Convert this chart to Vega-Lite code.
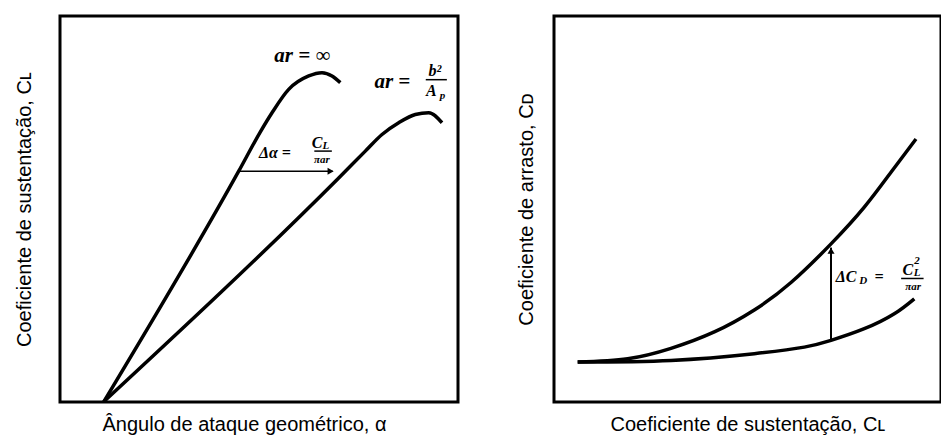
{
  "$schema": "https://vega.github.io/schema/vega-lite/v6.json",
  "background": "white",
  "padding": {"left": 12, "top": 14, "right": 0, "bottom": 0},
  "spacing": 54,
  "config": {
    "view": {"stroke": "black", "strokeWidth": 3},
    "axis": {"domain": false, "ticks": false, "labels": false, "grid": false, "titleFont": "Liberation Sans", "titleFontSize": 20, "titleFontWeight": "normal", "titleColor": "black"}
  },
  "datasets": {
    "lift": [
      {"curve": "inf", "x": 10.98, "y": 0.05},
      {"curve": "inf", "x": 44.9, "y": 59.79},
      {"curve": "inf", "x": 50.2, "y": 69.74},
      {"curve": "inf", "x": 53.27, "y": 74.94},
      {"curve": "inf", "x": 57.46, "y": 80.99},
      {"curve": "inf", "x": 62.49, "y": 84.47},
      {"curve": "inf", "x": 65.83, "y": 85.32},
      {"curve": "inf", "x": 68.34, "y": 84.47},
      {"curve": "inf", "x": 70.43, "y": 82.73},
      {"curve": "finite", "x": 10.98, "y": 0.05},
      {"curve": "finite", "x": 70.03, "y": 58.05},
      {"curve": "finite", "x": 76.71, "y": 64.99},
      {"curve": "finite", "x": 80.9, "y": 69.3},
      {"curve": "finite", "x": 85.1, "y": 72.34},
      {"curve": "finite", "x": 89.27, "y": 74.49},
      {"curve": "finite", "x": 92.64, "y": 74.94},
      {"curve": "finite", "x": 95.98, "y": 72.34}
    ],
    "arrowL": [{"x": 44.9, "x2": 68.5, "y": 59.8}],
    "headL": [{"x": 68.0, "y": 59.8}],
    "lblL_big": [
      {"t": "ar = ∞", "x": 60.9, "y": 89.7},
      {"t": "ar =", "x": 83.5, "y": 83.0}
    ],
    "lblL_mid": [
      {"t": "Δα =", "x": 54.0, "y": 64.5},
      {"t": "b²", "x": 94.2, "y": 85.7},
      {"t": "A", "x": 93.3, "y": 80.6},
      {"t": "C", "x": 64.6, "y": 67.1}
    ],
    "lblL_small": [
      {"t": "p", "x": 96.1, "y": 79.4},
      {"t": "L", "x": 66.8, "y": 66.3},
      {"t": "πar", "x": 65.8, "y": 62.8}
    ],
    "barsL": [
      {"x": 91.9, "x2": 97.2, "y": 83.5},
      {"x": 63.9, "x2": 68.3, "y": 65.0}
    ],
    "drag": [
      {"curve": "finite", "x": 6.12, "y": 10.34},
      {"curve": "finite", "x": 19.04, "y": 11.2},
      {"curve": "finite", "x": 30.23, "y": 13.89},
      {"curve": "finite", "x": 41.42, "y": 18.15},
      {"curve": "finite", "x": 51.76, "y": 23.84},
      {"curve": "finite", "x": 61.24, "y": 30.95},
      {"curve": "finite", "x": 71.58, "y": 40.96},
      {"curve": "finite", "x": 80.18, "y": 50.48},
      {"curve": "finite", "x": 87.08, "y": 59.53},
      {"curve": "finite", "x": 93.54, "y": 68.12},
      {"curve": "inf", "x": 6.12, "y": 10.34},
      {"curve": "inf", "x": 30.23, "y": 10.78},
      {"curve": "inf", "x": 51.76, "y": 12.52},
      {"curve": "inf", "x": 64.68, "y": 14.22},
      {"curve": "inf", "x": 71.58, "y": 15.96},
      {"curve": "inf", "x": 80.18, "y": 18.98},
      {"curve": "inf", "x": 87.93, "y": 22.86},
      {"curve": "inf", "x": 93.1, "y": 26.74}
    ],
    "arrowR": [{"x": 71.58, "y": 16.2, "y2": 40.0}],
    "headR": [{"x": 71.58, "y": 39.2}],
    "lblR_mid": [
      {"t": "ΔC", "x": 75.5, "y": 32.5},
      {"t": "=", "x": 84.0, "y": 32.5},
      {"t": "C", "x": 91.4, "y": 34.3}
    ],
    "lblR_small": [
      {"t": "D", "x": 79.9, "y": 31.3},
      {"t": "2", "x": 93.8, "y": 36.6},
      {"t": "L", "x": 93.8, "y": 33.3},
      {"t": "πar", "x": 92.8, "y": 29.8}
    ],
    "barsR": [{"x": 89.7, "x2": 95.5, "y": 32.0}]
  },
  "hconcat": [
    {
      "width": 398,
      "height": 386,
      "encoding": {
        "x": {"field": "x", "type": "quantitative", "scale": {"domain": [0, 100], "nice": false, "zero": false}, "axis": {"title": "Ângulo de ataque geométrico, α", "titlePadding": 12, "titleX": 184}},
        "y": {"field": "y", "type": "quantitative", "scale": {"domain": [0, 100], "nice": false, "zero": false}, "axis": {"title": "Coeficiente de sustentação, Cʟ", "titlePadding": 26}}
      },
      "layer": [
        {"data": {"name": "lift"}, "mark": {"type": "line", "color": "black", "strokeWidth": 3.5, "interpolate": "monotone"}, "encoding": {"detail": {"field": "curve"}}},
        {"data": {"name": "arrowL"}, "mark": {"type": "rule", "color": "black", "strokeWidth": 1.5}, "encoding": {"x2": {"field": "x2"}}},
        {"data": {"name": "headL"}, "mark": {"type": "point", "shape": "triangle-right", "filled": true, "color": "black", "size": 50, "opacity": 1}},
        {"data": {"name": "barsL"}, "mark": {"type": "rule", "color": "black", "strokeWidth": 1.5}, "encoding": {"x2": {"field": "x2"}}},
        {"data": {"name": "lblL_big"}, "mark": {"type": "text", "font": "Liberation Serif", "fontWeight": "bold", "fontStyle": "italic", "fontSize": 21, "baseline": "middle", "align": "center", "color": "black"}, "encoding": {"text": {"field": "t"}}},
        {"data": {"name": "lblL_mid"}, "mark": {"type": "text", "font": "Liberation Serif", "fontWeight": "bold", "fontStyle": "italic", "fontSize": 16, "baseline": "middle", "align": "center", "color": "black"}, "encoding": {"text": {"field": "t"}}},
        {"data": {"name": "lblL_small"}, "mark": {"type": "text", "font": "Liberation Serif", "fontWeight": "bold", "fontStyle": "italic", "fontSize": 11, "baseline": "middle", "align": "center", "color": "black"}, "encoding": {"text": {"field": "t"}}}
      ]
    },
    {
      "width": 387,
      "height": 386,
      "encoding": {
        "x": {"field": "x", "type": "quantitative", "scale": {"domain": [0, 100], "nice": false, "zero": false}, "axis": {"title": "Coeficiente de sustentação, Cʟ", "titlePadding": 12}},
        "y": {"field": "y", "type": "quantitative", "scale": {"domain": [0, 100], "nice": false, "zero": false}, "axis": {"title": "Coeficiente de arrasto, Cᴅ", "titlePadding": 18}}
      },
      "layer": [
        {"data": {"name": "drag"}, "mark": {"type": "line", "color": "black", "strokeWidth": 3.5, "interpolate": "natural"}, "encoding": {"detail": {"field": "curve"}}},
        {"data": {"name": "arrowR"}, "mark": {"type": "rule", "color": "black", "strokeWidth": 2}, "encoding": {"y2": {"field": "y2"}}},
        {"data": {"name": "headR"}, "mark": {"type": "point", "shape": "triangle-up", "filled": true, "color": "black", "size": 50, "opacity": 1}},
        {"data": {"name": "barsR"}, "mark": {"type": "rule", "color": "black", "strokeWidth": 1.5}, "encoding": {"x2": {"field": "x2"}}},
        {"data": {"name": "lblR_mid"}, "mark": {"type": "text", "font": "Liberation Serif", "fontWeight": "bold", "fontStyle": "italic", "fontSize": 16, "baseline": "middle", "align": "center", "color": "black"}, "encoding": {"text": {"field": "t"}}},
        {"data": {"name": "lblR_small"}, "mark": {"type": "text", "font": "Liberation Serif", "fontWeight": "bold", "fontStyle": "italic", "fontSize": 11, "baseline": "middle", "align": "center", "color": "black"}, "encoding": {"text": {"field": "t"}}}
      ]
    }
  ]
}
